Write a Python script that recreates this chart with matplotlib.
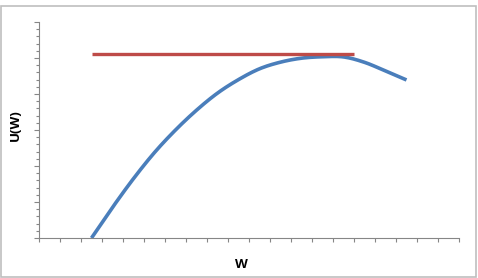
import numpy as np
import matplotlib
matplotlib.use("Agg")
import matplotlib.pyplot as plt
from matplotlib.patches import Rectangle

# =========================
# DATA
# =========================
w_values = [2.5, 3.5, 4.5, 5.5, 6.5, 7.5, 8.5, 9.5, 10.5, 11.5, 12.5, 13.5, 14.5, 15.5, 16.5, 17.5]
u_values = [0, 17.0, 33.0, 47.5, 60.0, 71.0, 80.5, 88.0, 94.0, 97.7, 99.9, 100.7, 100.6, 97.6, 92.8, 87.8]

line_w = [2.5, 15.0]
line_u = [102.2, 102.2]

x_label = "W"
y_label = "U(W)"

BLUE = "#4A7EBB"
RED = "#BE4B48"
GRAY = "#868686"


# =========================
# SMOOTHED LINE (like Excel's smoothed line)
# =========================
def catmull_rom(x, y, n=20):
    x = np.asarray(x, dtype=float)
    y = np.asarray(y, dtype=float)
    px = np.concatenate([[2 * x[0] - x[1]], x, [2 * x[-1] - x[-2]]])
    py = np.concatenate([[2 * y[0] - y[1]], y, [2 * y[-1] - y[-2]]])
    xs, ys = [], []
    t = np.linspace(0, 1, n, endpoint=False)
    for i in range(1, len(px) - 2):
        for p, out in ((px, xs), (py, ys)):
            p0, p1, p2, p3 = p[i - 1], p[i], p[i + 1], p[i + 2]
            out.extend(0.5 * ((2 * p1) + (-p0 + p2) * t
                              + (2 * p0 - 5 * p1 + 4 * p2 - p3) * t ** 2
                              + (-p0 + 3 * p1 - 3 * p2 + p3) * t ** 3))
    xs.append(x[-1])
    ys.append(y[-1])
    return np.array(xs), np.array(ys)


fig = plt.figure(figsize=(4.78, 2.78), dpi=100)

# chart border
fig.patches.append(Rectangle((0.5 / 478, 1.5 / 278), 475.5 / 478, 270.5 / 278,
                             transform=fig.transFigure, fill=False,
                             edgecolor="#BFBFBF", linewidth=1.2))

ax = fig.add_axes([39 / 478, 40 / 278, 420 / 478, 216 / 278])

sx, sy = catmull_rom(w_values, u_values)
ax.plot(sx, sy, color=BLUE, linewidth=2.6, solid_capstyle="butt", clip_on=False)
ax.plot(line_w, line_u, color=RED, linewidth=2.4, solid_capstyle="butt")

ax.set_xlim(0, 20)
ax.set_ylim(0, 120)

for side in ["top", "right"]:
    ax.spines[side].set_visible(False)
for side in ["left", "bottom"]:
    ax.spines[side].set_color(GRAY)
    ax.spines[side].set_linewidth(0.8)

ax.set_xticks(np.arange(0, 21, 1))
ax.set_yticks(np.arange(0, 121, 20))
ax.set_yticks(np.arange(0, 121, 4), minor=True)
ax.tick_params(axis="x", direction="out", length=3, width=0.8, color=GRAY, labelbottom=False)
ax.tick_params(axis="y", which="major", direction="out", length=3.6, width=0.8, color=GRAY, labelleft=False)
ax.tick_params(axis="y", which="minor", direction="out", length=2.2, width=0.8, color=GRAY)

fig.text(241 / 478, 1 - 264 / 278, x_label, ha="center", va="center",
         fontsize=9.5, fontweight="bold", family=["Open Sans", "DejaVu Sans"])
fig.text(15 / 478, 1 - 125 / 278, y_label, ha="center", va="center",
         rotation=90, fontsize=9.5, fontweight="bold", family=["Open Sans", "DejaVu Sans"])

fig.savefig("out.png", dpi=100)
